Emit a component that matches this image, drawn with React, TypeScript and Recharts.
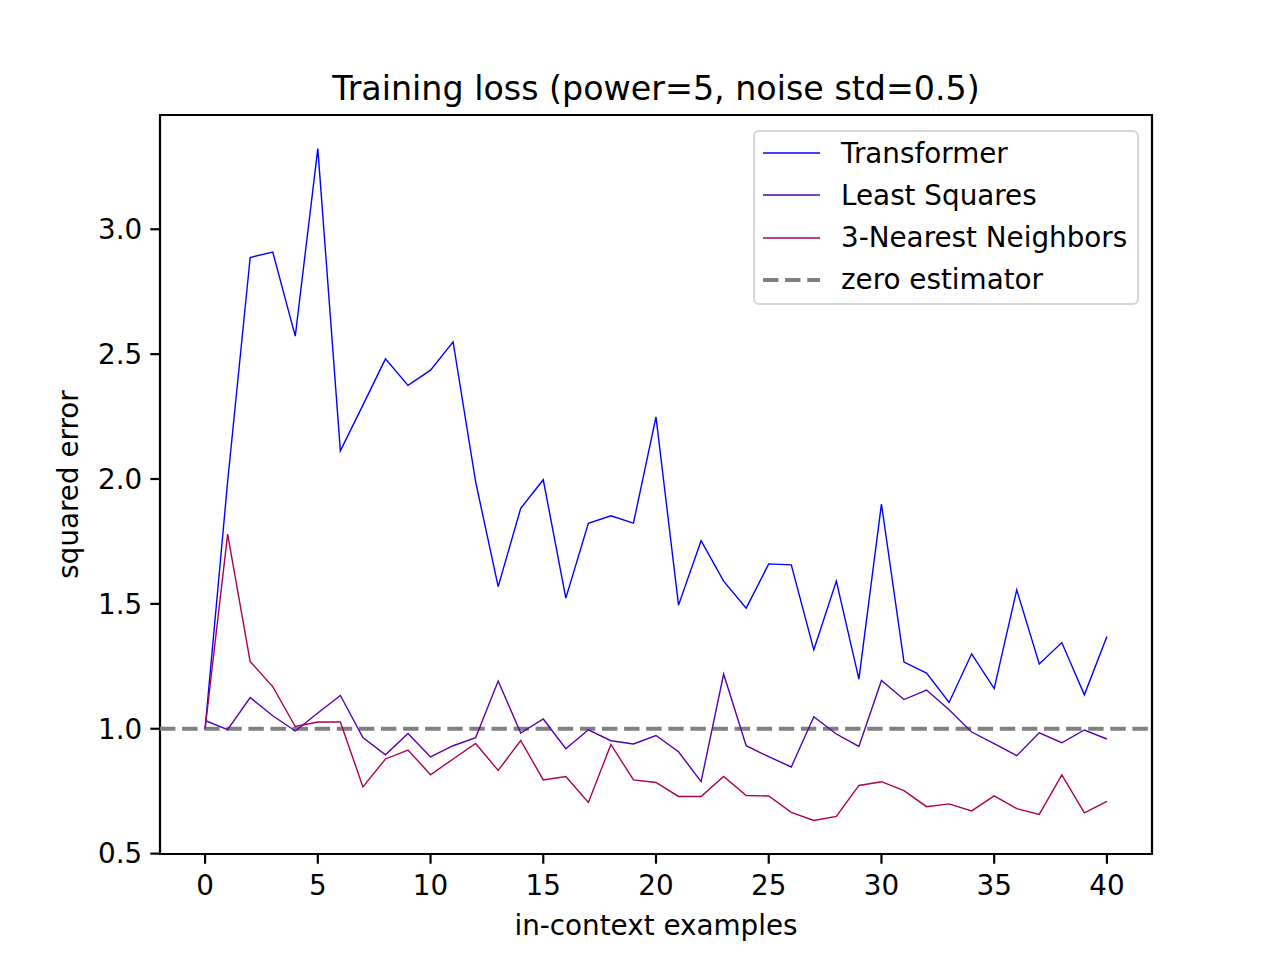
import React from "react";
import { LineChart, Line, XAxis, YAxis, ReferenceLine, ReferenceArea } from "recharts";

const examples = Array.from({ length: 41 }, (_, i) => i);
const transformer = [1.0, 1.99, 2.887, 2.909, 2.572, 3.323, 2.113, 2.296, 2.481, 2.375, 2.436, 2.549, 1.989, 1.569, 1.883, 1.997, 1.523, 1.823, 1.853, 1.823, 2.249, 1.495, 1.753, 1.591, 1.483, 1.66, 1.656, 1.316, 1.591, 1.199, 1.9, 1.267, 1.223, 1.105, 1.3, 1.161, 1.556, 1.259, 1.345, 1.136, 1.369];
const leastSquares = [1.033, 0.996, 1.125, 1.052, 0.991, 1.063, 1.133, 0.965, 0.896, 0.981, 0.887, 0.932, 0.964, 1.191, 0.983, 1.039, 0.92, 0.996, 0.952, 0.939, 0.973, 0.908, 0.788, 1.219, 0.932, 0.888, 0.847, 1.048, 0.979, 0.929, 1.193, 1.117, 1.155, 1.076, 0.987, 0.94, 0.892, 0.984, 0.944, 0.995, 0.959];
const knn = [1.0, 1.779, 1.269, 1.169, 1.009, 1.027, 1.027, 0.767, 0.879, 0.915, 0.816, 0.879, 0.941, 0.833, 0.953, 0.795, 0.809, 0.705, 0.937, 0.795, 0.785, 0.729, 0.729, 0.809, 0.733, 0.731, 0.665, 0.633, 0.649, 0.773, 0.788, 0.752, 0.688, 0.699, 0.671, 0.731, 0.68, 0.657, 0.815, 0.663, 0.709];
const xTicks = [0, 5, 10, 15, 20, 25, 30, 35, 40];
const yTicks = [0.5, 1.0, 1.5, 2.0, 2.5, 3.0];

const data = examples.map((x, i) => ({
  x,
  transformer: transformer[i],
  leastSquares: leastSquares[i],
  knn: knn[i],
}));

const FONT = "'DejaVu Sans', sans-serif";
const FS = 27.8;

const legendItems = [
  { label: "Transformer", color: "#0000ff", dash: false },
  { label: "Least Squares", color: "#5500aa", dash: false },
  { label: "3-Nearest Neighbors", color: "#aa0055", dash: false },
  { label: "zero estimator", color: "#808080", dash: true },
];

const LegendBox = () => (
  <div
    style={{
      position: "absolute",
      left: 753,
      top: 130,
      width: 386,
      height: 175,
      border: "2.5px solid #d6d6d6",
      borderRadius: 6,
      background: "rgba(255,255,255,0.8)",
      boxSizing: "border-box",
    }}
  >
    {legendItems.map((it, i) => (
      <div
        key={it.label}
        style={{
          position: "absolute",
          left: 0,
          top: 0 + i * 42.3,
          height: 42,
          display: "flex",
          alignItems: "center",
          fontFamily: FONT,
          fontSize: FS,
          color: "#000",
          whiteSpace: "nowrap",
        }}
      >
        <svg width={86} height={10} style={{ display: "block" }}>
          <line
            x1={8}
            x2={65}
            y1={5}
            y2={5}
            stroke={it.color}
            strokeWidth={it.dash ? 4.2 : 1.4}
            strokeDasharray={it.dash ? "15.4 6.7" : undefined}
          />
        </svg>
        <span>{it.label}</span>
      </div>
    ))}
  </div>
);

const XLabel = (props: any) => {
  const vb = props.viewBox || {};
  return (
    <text x={vb.x + vb.width / 2} y={935} textAnchor="middle" fontFamily={FONT} fontSize={FS} fill="#000">
      in-context examples
    </text>
  );
};

const YLabel = (props: any) => {
  const vb = props.viewBox || {};
  const cy = vb.y + vb.height / 2;
  return (
    <text
      x={78}
      y={cy}
      textAnchor="middle"
      fontFamily={FONT}
      fontSize={FS}
      fill="#000"
      transform={`rotate(-90, 78, ${cy})`}
    >
      squared error
    </text>
  );
};

export default function App() {
  return (
    <div style={{ position: "absolute", left: 0, top: 0, width: 1280, height: 960, background: "#fff" }}>
      <div
        style={{
          position: "absolute",
          left: 160,
          width: 992,
          top: 69,
          textAlign: "center",
          fontFamily: FONT,
          fontSize: 33.3,
          color: "#000",
          lineHeight: "40px",
        }}
      >
        Training loss (power=5, noise std=0.5)
      </div>
      <LineChart width={1280} height={960} data={data} margin={{ top: 115, right: 128, left: 0, bottom: 0 }}>
        <XAxis
          dataKey="x"
          type="number"
          domain={[-2, 42]}
          ticks={xTicks}
          allowDataOverflow
          height={106}
          tickSize={9.7}
          tickMargin={12}
          tickLine={{ stroke: "#000", strokeWidth: 2.2 }}
          axisLine={false}
          tick={{ fill: "#000", fontSize: FS, fontFamily: FONT }}
          label={<XLabel />}
        />
        <YAxis
          type="number"
          domain={[0.4985, 3.4575]}
          ticks={yTicks}
          allowDataOverflow
          width={160}
          tickSize={9.7}
          tickMargin={8}
          tickLine={{ stroke: "#000", strokeWidth: 2.2 }}
          axisLine={false}
          tickFormatter={(v: number) => v.toFixed(1)}
          tick={{ fill: "#000", fontSize: FS, fontFamily: FONT }}
          label={<YLabel />}
        />
        <ReferenceLine y={1} stroke="#808080" strokeWidth={4.2} strokeDasharray="15.4 6.7" />
        <Line dataKey="transformer" stroke="#0000ff" strokeWidth={1.4} dot={false} isAnimationActive={false} />
        <Line dataKey="leastSquares" stroke="#5500aa" strokeWidth={1.4} dot={false} isAnimationActive={false} />
        <Line dataKey="knn" stroke="#aa0055" strokeWidth={1.4} dot={false} isAnimationActive={false} />
        <ReferenceArea
          x1={-2}
          x2={42}
          y1={0.4985}
          y2={3.4575}
          fill="none"
          fillOpacity={0}
          stroke="#000"
          strokeWidth={2.2}
          ifOverflow="visible"
        />
      </LineChart>
      <LegendBox />
    </div>
  );
}
